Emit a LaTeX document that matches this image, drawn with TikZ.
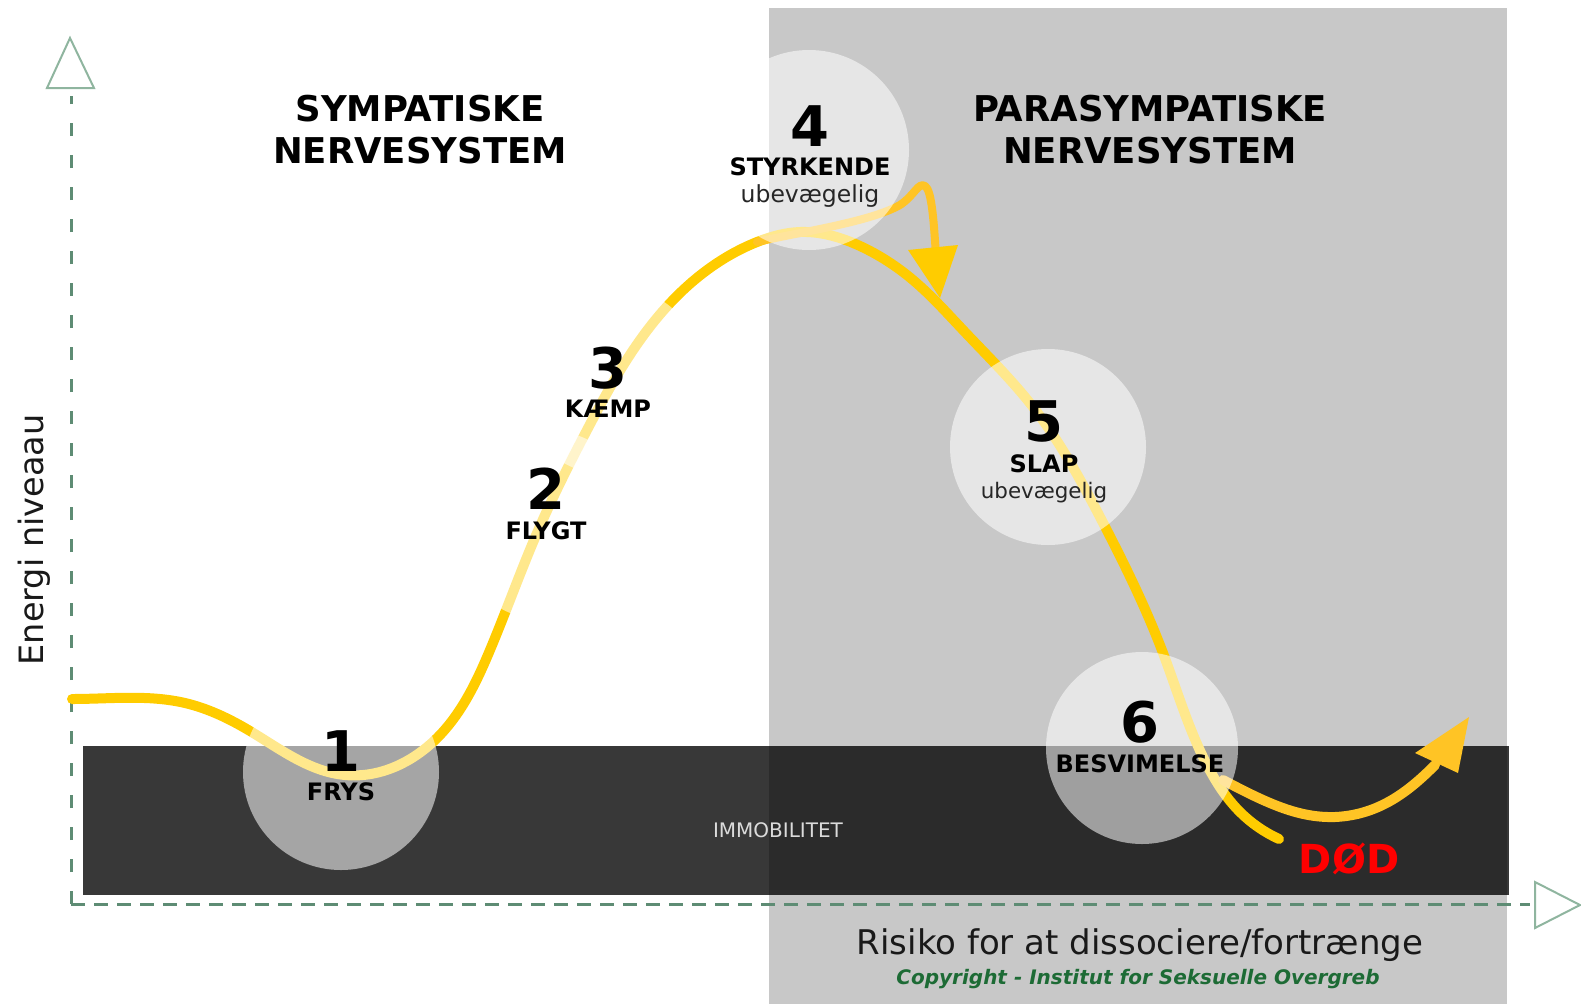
\documentclass[tikz,border=0pt]{standalone}
\usepackage{fontspec}
\setmainfont{DejaVu Sans}
\usetikzlibrary{hobby}
\definecolor{panelgray}{HTML}{C8C8C8}
\definecolor{axisgreen}{HTML}{5E8C74}
\definecolor{trigreen}{HTML}{8FB59F}
\definecolor{curveyel}{HTML}{FFCC00}
\definecolor{arrowyel}{HTML}{FFC425}
\definecolor{copygreen}{HTML}{1D6B35}
\definecolor{dodred}{HTML}{FF0000}
\tikzset{
  phase/.style={circle, fill=white, fill opacity=0.55, draw=none, inner sep=0pt},
  axisline/.style={draw=axisgreen, line width=3pt},
  axishead/.style={draw=trigreen, line width=2pt, fill=white, line join=miter},
  heading/.style={anchor=base, font=\bfseries\fontsize{35.5}{40}\selectfont, inner sep=0pt},
  digit/.style={anchor=base, font=\bfseries\fontsize{56}{60}\selectfont, inner sep=0pt},
  label/.style={anchor=base, font=\bfseries\fontsize{24}{28}\selectfont, inner sep=0pt},
  sublabel/.style={anchor=base, font=\fontsize{#1}{24}\selectfont, text=black!85, inner sep=0pt},
}
\begin{document}
\begin{tikzpicture}[x=1pt,y=-1pt]
\useasboundingbox (0,0) rectangle (1581,1004);
% right panel
\fill[panelgray] (769,8) rectangle (1507,1004);
% immobility bar
\fill[black, opacity=0.78] (83,746) rectangle (1509,895);
\node[anchor=base, font=\fontsize{20}{24}\selectfont, text=white!86!black, inner sep=0pt] (immo) at (778,837) {IMMOBILITET};
% axes
\coordinate (origin) at (71,904);
\coordinate (ytop) at (71,96);
\coordinate (xend) at (1530,904);
\draw[axisline, dash pattern=on 13pt off 19pt] (origin) -- (ytop);
\draw[axisline, dash pattern=on 14pt off 9pt] (origin) -- (xend);
\draw[axishead] (47,88) -- (70,38) -- (94,88) -- cycle;
\draw[axishead] (1535,882) -- (1580,905) -- (1535,928) -- cycle;
% main curve
\draw[curveyel, line width=10pt, line cap=round, line join=round, use Hobby shortcut]
  ([out angle=0]72,699) .. (185,703) .. (250,731) .. (345,775) .. (440,735) .. (490,650)
  .. (537,533) .. (587,430) .. (673,300) .. (757,242) .. (800,232) .. (860,246)
  .. (913,280) .. (963,330) .. (1033,407) .. (1100,517) .. (1163,653) .. (1207,765)
  .. (1240,812) .. (1279,839);
% upper arrow
\coordinate (ua0) at (757,242);
\coordinate (ua1) at (936,256);
\draw[arrowyel, line width=8pt, line cap=round, line join=round]
  (ua0) .. controls (800,232) and (870,222) .. (900,205)
  .. controls (915,195) and (918,182) .. (925,186)
  .. controls (932,190) and (934,225) .. (ua1);
\fill[curveyel] (908,250) -- (958,245) -- (940,298) -- cycle;
% lower arrow
\coordinate (la0) at (1223,780);
\coordinate (la1) at (1435,765);
\draw[arrowyel, line width=10pt, line cap=round]
  (la0) .. controls (1270,805) and (1300,818) .. (1335,817)
  .. controls (1380,815) and (1410,790) .. (la1);
\fill[arrowyel] (1415,753) -- (1458,773) -- (1469,717) -- cycle;
% phase circles
\node[phase, minimum size=196pt] (c1) at (341,772) {};
\node[phase, minimum size=190pt] (c2) at (546,525) {};
\node[phase, minimum size=190pt] (c3) at (610,380) {};
\node[phase, minimum size=200pt] (c4) at (809,150) {};
\node[phase, minimum size=196pt] (c5) at (1048,447) {};
\node[phase, minimum size=192pt] (c6) at (1142,748) {};
% headings
\node[heading] (sym1) at (420,121) {SYMPATISKE};
\node[heading] (sym2) at (420,163) {NERVESYSTEM};
\node[heading] (par1) at (1150,121) {PARASYMPATISKE};
\node[heading] (par2) at (1150,163) {NERVESYSTEM};
% labels
\node[digit] (n1) at (341,771) {1};
\node[label] (l1) at (341,800) {FRYS};
\node[digit] (n2) at (546,509) {2};
\node[label] (l2) at (546,539) {FLYGT};
\node[digit] (n3) at (608,388) {3};
\node[label] (l3) at (608,417) {KÆMP};
\node[digit] (n4) at (810,146) {4};
\node[label] (l4) at (810,175) {STYRKENDE};
\node[sublabel=23.5] (s4) at (810,202) {ubevægelig};
\node[digit] (n5) at (1044,441) {5};
\node[label] (l5) at (1044,472) {SLAP};
\node[sublabel=21.4] (s5) at (1044,498) {ubevægelig};
\node[digit] (n6) at (1140,742) {6};
\node[label] (l6) at (1140,772) {BESVIMELSE};
\node[anchor=base, font=\bfseries\fontsize{40}{44}\selectfont, text=dodred, inner sep=0pt] (dod) at (1349,873) {DØD};
% axis labels
\node[anchor=base, rotate=90, font=\fontsize{33.5}{38}\selectfont, text=black!90, inner sep=0pt] (ylab) at (43,540) {Energi niveaau};
\node[anchor=base, font=\fontsize{34}{38}\selectfont, text=black!90, inner sep=0pt] (xlab) at (1140,954) {Risiko for at dissociere/fortrænge};
\node[anchor=base, font=\bfseries\itshape\fontsize{20}{24}\selectfont, text=copygreen, inner sep=0pt] (copy) at (1138,984) {Copyright - Institut for Seksuelle Overgreb};
\end{tikzpicture}
\end{document}
